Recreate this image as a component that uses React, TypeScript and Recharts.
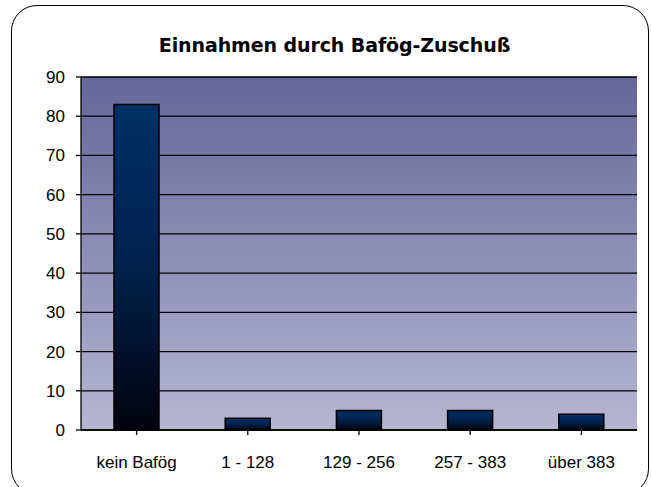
import { BarChart, Bar, XAxis, YAxis, CartesianGrid, Cell } from 'recharts'

const categories = ['kein Bafög', '1 - 128', '129 - 256', '257 - 383', 'über 383']
const counts = [83, 3, 5, 5, 4]
const yTicks = [0, 10, 20, 30, 40, 50, 60, 70, 80, 90]
const title = 'Einnahmen durch Bafög-Zuschuß'

const data = categories.map((name, i) => ({ name, value: counts[i] }))

const FONT = 'Arial, "Liberation Sans", sans-serif'

export default function App() {
  return (
    <div style={{ position: 'absolute', left: 0, top: 0, width: 651, height: 487, overflow: 'hidden', background: '#fff' }}>
      <div
        style={{
          position: 'absolute',
          left: 11,
          top: 5,
          width: 636,
          height: 488,
          border: '1.5px solid #000',
          borderRadius: 26,
        }}
      />
      <div
        style={{
          position: 'absolute',
          left: 0,
          top: 34,
          width: 669,
          textAlign: 'center',
          fontFamily: '"DejaVu Sans", Verdana, sans-serif',
          fontWeight: 'bold',
          fontSize: 19,
          letterSpacing: -0.1,
          color: '#000',
        }}
      >
        {title}
      </div>
      <div style={{ position: 'absolute', left: 0, top: 0 }}>
        <BarChart
          width={651}
          height={487}
          data={data}
          margin={{ top: 77, right: 14, bottom: 27, left: 0 }}
          barSize={45}
        >
          <defs>
            <linearGradient id="plotBg" x1="0" y1="0" x2="0" y2="1">
              <stop offset="0%" stopColor="#66669a" />
              <stop offset="100%" stopColor="#b6b6d2" />
            </linearGradient>
            <linearGradient id="barFill" x1="0" y1="0" x2="0" y2="1">
              <stop offset="0%" stopColor="#003066" />
              <stop offset="50%" stopColor="#00214c" />
              <stop offset="100%" stopColor="#02020e" />
            </linearGradient>
          </defs>
          <CartesianGrid
            vertical={false}
            fill="url(#plotBg)"
            fillOpacity={1}
            stroke="#000"
            strokeWidth={1.3}
          />
          <XAxis
            dataKey="name"
            height={30}
            interval={0}
            tickSize={5}
            tickMargin={21}
            axisLine={{ stroke: '#000', strokeWidth: 1.3 }}
            tickLine={{ stroke: '#000', strokeWidth: 1.3 }}
            tick={{ fill: '#000', fontSize: 17, fontFamily: FONT }}
          />
          <YAxis
            width={81}
            domain={[0, 90]}
            ticks={yTicks}
            interval={0}
            tickSize={5}
            tickMargin={11}
            axisLine={{ stroke: '#000', strokeWidth: 1.3 }}
            tickLine={{ stroke: '#000', strokeWidth: 1.3 }}
            tick={{ fill: '#000', fontSize: 17, fontFamily: FONT }}
          />
          <YAxis
            yAxisId="edge"
            orientation="right"
            width={0}
            domain={[0, 90]}
            tick={false}
            tickLine={false}
            axisLine={{ stroke: '#8a8a8a', strokeWidth: 1.5 }}
          />
          <Bar dataKey="value" stroke="#000" strokeWidth={1.5} isAnimationActive={false}>
            {data.map((_, i) => (
              <Cell key={i} fill="url(#barFill)" />
            ))}
          </Bar>
        </BarChart>
      </div>
    </div>
  )
}
